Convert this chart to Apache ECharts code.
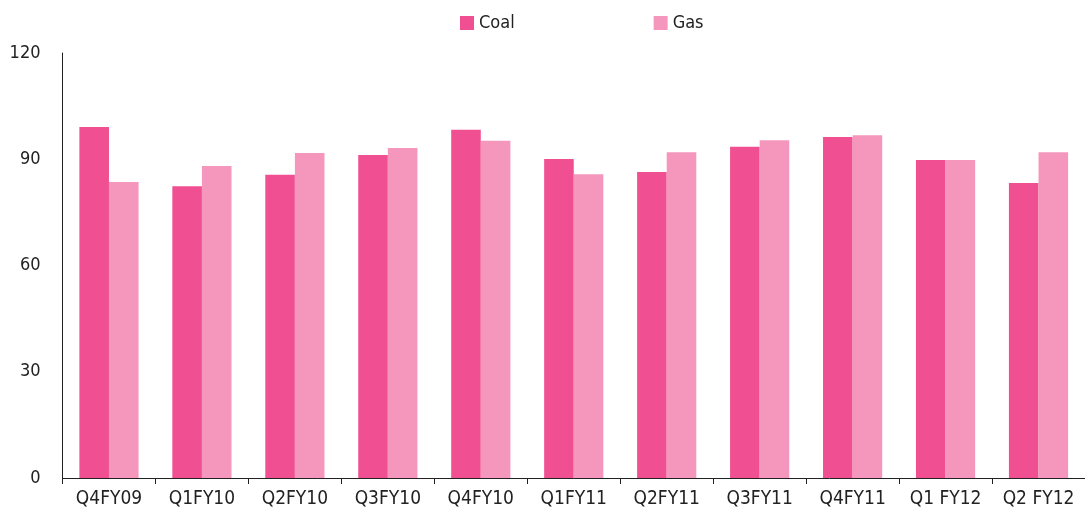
<!DOCTYPE html>
<html>
<head>
<meta charset="utf-8">
<title>Coal vs Gas</title>
<script src="https://cdn.jsdelivr.net/npm/echarts@6/dist/echarts.min.js"></script>
<style>
  html, body { margin: 0; padding: 0; background: #fff; }
  #chart { width: 1085px; height: 513px; }
</style>
</head>
<body>
<div id="chart"></div>
<script>
// Quarterly values for the two fuel series
const quarters = ['Q4FY09', 'Q1FY10', 'Q2FY10', 'Q3FY10', 'Q4FY10', 'Q1FY11',
                  'Q2FY11', 'Q3FY11', 'Q4FY11', 'Q1 FY12', 'Q2 FY12'];
const coal = [99.1, 82.4, 85.6, 91.2, 98.3, 90.1, 86.4, 93.5, 96.3, 89.8, 83.3];
const gas  = [83.6, 88.1, 91.8, 93.2, 95.2, 85.8, 92.0, 95.4, 96.8, 89.8, 92.0];
const yTicks = { min: 0, max: 120, interval: 30 };

const FONT = '"DejaVu Sans Condensed", "Liberation Sans Narrow", sans-serif';
const TEXT = '#222';

const chart = echarts.init(document.getElementById('chart'), null, { renderer: 'canvas' });

chart.setOption({
  animation: false,
  textStyle: { fontFamily: FONT },
  legend: {
    left: 455,
    top: 9,
    itemWidth: 14,
    itemHeight: 14,
    itemGap: 139,
    icon: 'rect',
    textStyle: { fontFamily: FONT, fontSize: 18, color: TEXT },
    data: ['Coal', 'Gas']
  },
  grid: {
    left: 62.5,
    top: 53,
    width: 1029.6,
    bottom: 35,
    containLabel: false
  },
  xAxis: {
    type: 'category',
    data: quarters,
    axisLine: { lineStyle: { color: '#222', width: 1 } },
    axisTick: { show: true, length: 6, alignWithLabel: false, lineStyle: { color: '#222' } },
    axisLabel: { fontFamily: FONT, fontSize: 19, color: TEXT, margin: 12, interval: 0 },
    splitLine: { show: false }
  },
  yAxis: {
    type: 'value',
    min: yTicks.min,
    max: yTicks.max,
    interval: yTicks.interval,
    axisLine: { show: true, lineStyle: { color: '#222', width: 1 } },
    axisTick: { show: false },
    axisLabel: { fontFamily: FONT, fontSize: 18, color: TEXT, margin: 22 },
    splitLine: { show: false }
  },
  series: [
    {
      name: 'Coal',
      type: 'bar',
      data: coal,
      barWidth: 29.6,
      barGap: '0%',
      itemStyle: { color: '#F05091' }
    },
    {
      name: 'Gas',
      type: 'bar',
      data: gas,
      barWidth: 29.6,
      barGap: '0%',
      itemStyle: { color: '#F596BC' }
    }
  ]
});
</script>
</body>
</html>
